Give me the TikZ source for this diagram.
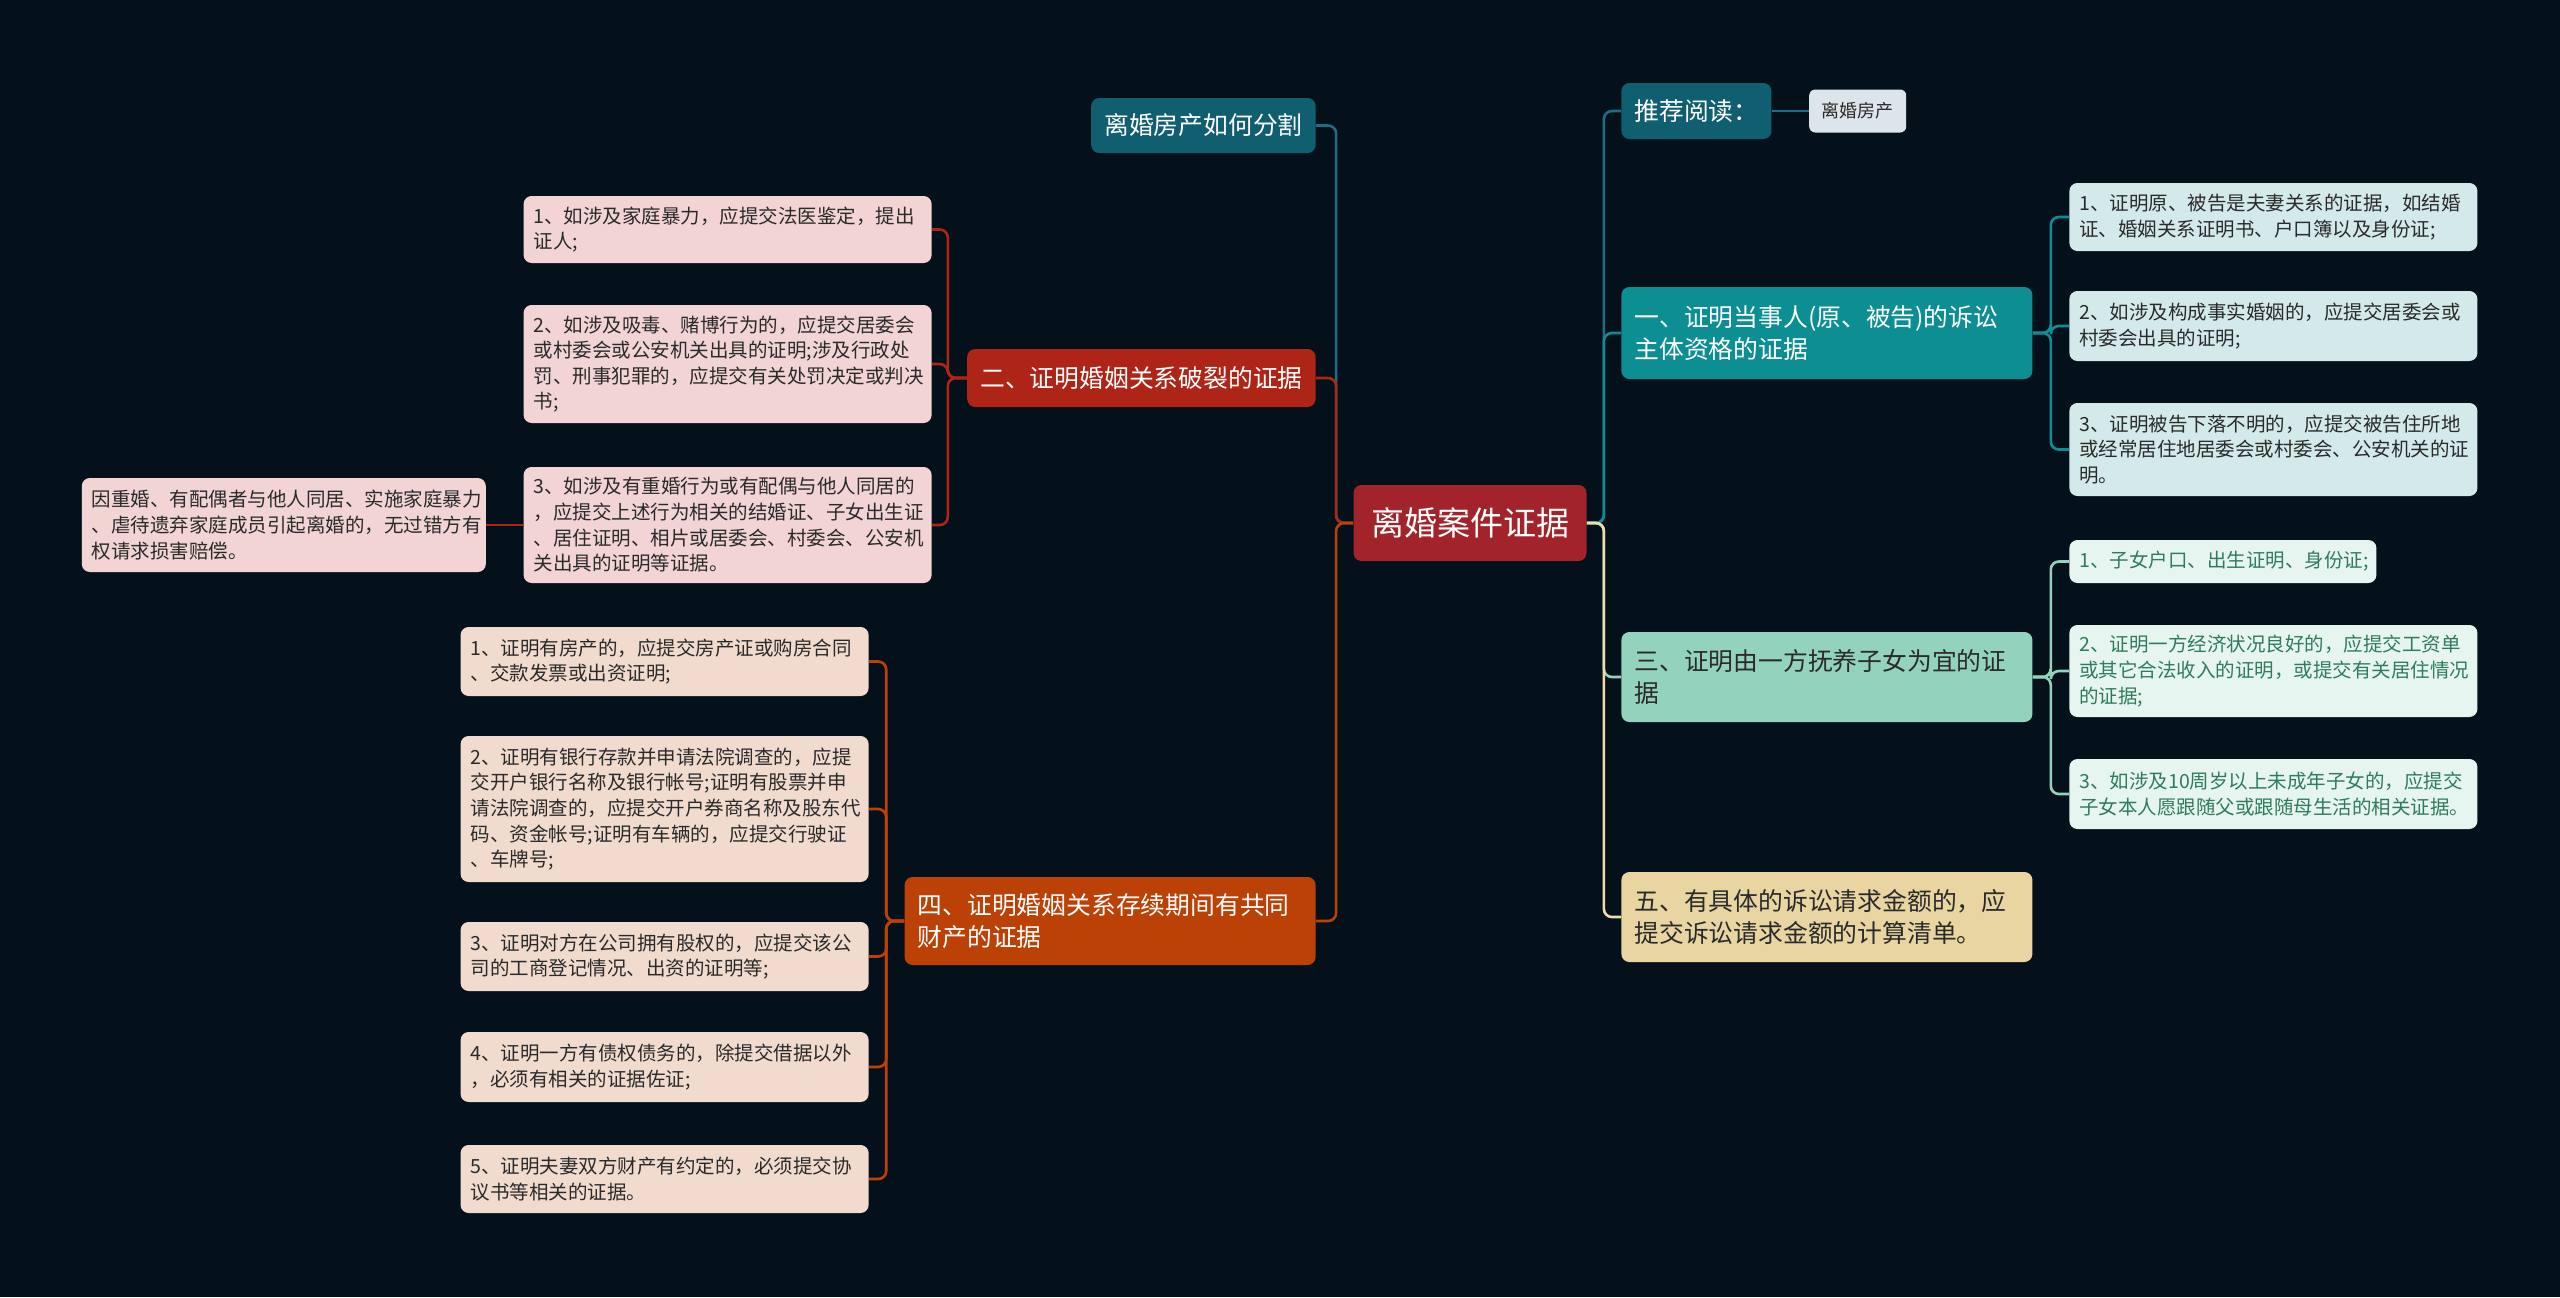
\documentclass[tikz,border=0pt]{standalone}
\usepackage{fontspec}
\setmainfont{Noto Sans CJK SC}
\usetikzlibrary{positioning}

\definecolor{bgc}{HTML}{04111A}
\definecolor{rootc}{HTML}{A3232A}
\definecolor{bluec}{HTML}{0F5F71}
\definecolor{bluel}{HTML}{1E6D84}
\definecolor{tealc}{HTML}{0D8E93}
\definecolor{mintc}{HTML}{93D2BC}
\definecolor{sandc}{HTML}{E8D5A2}
\definecolor{sandl}{HTML}{EEDCAA}
\definecolor{redc}{HTML}{AE2417}
\definecolor{orgc}{HTML}{BC4106}
\definecolor{tealleaf}{HTML}{D4EAEA}
\definecolor{mintleaf}{HTML}{E7F5F0}
\definecolor{mintink}{HTML}{2E7B5D}
\definecolor{redleaf}{HTML}{F1D4D3}
\definecolor{orgleaf}{HTML}{F1DBCF}
\definecolor{tagfill}{HTML}{DCE6EA}
\definecolor{inkc}{HTML}{2A2A2A}

\begin{document}
\begin{tikzpicture}[
    x=0.5pt, y=-0.5pt,
    root/.style={rectangle, rounded corners=4pt, fill=rootc, text=white, font=\fontsize{16.5}{20}\selectfont, minimum width=116.5pt, minimum height=38pt},
    branch/.style={rectangle, rounded corners=4pt, text=white, font=\fontsize{12.4}{16.3}\selectfont, inner xsep=6.5pt},
    branchtwo/.style={branch, text width=192.5pt, align=left, minimum height=45pt},
    leaf/.style={rectangle, rounded corners=4pt, text=inkc, font=\fontsize{9.75}{12.8}\selectfont, text width=194pt, inner xsep=5pt, inner ysep=3pt, align=left},
    link/.style={line width=1.3pt, rounded corners=4pt}
]

\fill[bgc] (0,0) rectangle (2560,1297);

% centre
\node[root] (root) at (1470,523) {离婚案件证据};

% left branches
\node[branch, fill=bluec, minimum width=112pt, minimum height=27.5pt, anchor=east] (fangchan) at (1316,125.5) {离婚房产如何分割};
\node[branch, fill=redc, minimum width=173.5pt, minimum height=29pt, anchor=east] (er) at (1316,378) {二、证明婚姻关系破裂的证据};
\node[branchtwo, fill=orgc, minimum height=44pt, anchor=east] (si) at (1316,921) {四、证明婚姻关系存续期间有共同\\财产的证据};

% right branches
\node[branch, fill=bluec, minimum width=74.5pt, minimum height=28pt, anchor=west] (tuijian) at (1621,111) {推荐阅读：};
\node[rectangle, rounded corners=3pt, fill=tagfill, text=inkc, font=\fontsize{9}{11}\selectfont, minimum width=48.5pt, minimum height=21.5pt, right=18.5pt of tuijian] (tag) {离婚房产};
\node[branchtwo, fill=tealc, minimum height=46pt, anchor=west] (yi) at (1621,333) {一、证明当事人(原、被告)的诉讼\\主体资格的证据};
\node[branchtwo, fill=mintc, text=inkc, anchor=west] (san) at (1621,677) {三、证明由一方抚养子女为宜的证\\据};
\node[branchtwo, fill=sandc, text=inkc, anchor=west] (wu) at (1621,917) {五、有具体的诉讼请求金额的，应\\提交诉讼请求金额的计算清单。};

% yi leaves
\node[leaf, fill=tealleaf, minimum height=34pt, anchor=west] (y1) at (2069,217) {1、证明原、被告是夫妻关系的证据，如结婚\\证、婚姻关系证明书、户口簿以及身份证;};
\node[leaf, fill=tealleaf, minimum height=35pt, anchor=west] (y2) at (2069,326) {2、如涉及构成事实婚姻的，应提交居委会或\\村委会出具的证明;};
\node[leaf, fill=tealleaf, minimum height=46.5pt, anchor=west] (y3) at (2069,449.5) {3、证明被告下落不明的，应提交被告住所地\\或经常居住地居委会或村委会、公安机关的证\\明。};

% san leaves
\node[leaf, fill=mintleaf, text=mintink, text width=143.5pt, minimum height=21.5pt, anchor=west] (s1) at (2069,561.5) {1、子女户口、出生证明、身份证;};
\node[leaf, fill=mintleaf, text=mintink, minimum height=46pt, anchor=west] (s2) at (2069,671) {2、证明一方经济状况良好的，应提交工资单\\或其它合法收入的证明，或提交有关居住情况\\的证据;};
\node[leaf, fill=mintleaf, text=mintink, minimum height=35pt, anchor=west] (s3) at (2069,794) {3、如涉及10周岁以上未成年子女的，应提交\\子女本人愿跟随父或跟随母生活的相关证据。};

% er leaves
\node[leaf, fill=redleaf, minimum height=33.5pt, anchor=east] (e1) at (932,229.5) {1、如涉及家庭暴力，应提交法医鉴定，提出\\证人;};
\node[leaf, fill=redleaf, minimum height=59pt, anchor=east] (e2) at (932,364) {2、如涉及吸毒、赌博行为的，应提交居委会\\或村委会或公安机关出具的证明;涉及行政处\\罚、刑事犯罪的，应提交有关处罚决定或判决\\书;};
\node[leaf, fill=redleaf, minimum height=58pt, anchor=east] (e3) at (932,525) {3、如涉及有重婚行为或有配偶与他人同居的\\，应提交上述行为相关的结婚证、子女出生证\\、居住证明、相片或居委会、村委会、公安机\\关出具的证明等证据。};
\node[leaf, fill=redleaf, text width=192pt, minimum height=47pt, left=18.5pt of e3] (e3a) {因重婚、有配偶者与他人同居、实施家庭暴力\\、虐待遗弃家庭成员引起离婚的，无过错方有\\权请求损害赔偿。};

% si leaves
\node[leaf, fill=orgleaf, minimum height=34.5pt, anchor=east] (f1) at (869,661.5) {1、证明有房产的，应提交房产证或购房合同\\、交款发票或出资证明;};
\node[leaf, fill=orgleaf, minimum height=73pt, anchor=east] (f2) at (869,809) {2、证明有银行存款并申请法院调查的，应提\\交开户银行名称及银行帐号;证明有股票并申\\请法院调查的，应提交开户券商名称及股东代\\码、资金帐号;证明有车辆的，应提交行驶证\\、车牌号;};
\node[leaf, fill=orgleaf, minimum height=34.5pt, anchor=east] (f3) at (869,956.5) {3、证明对方在公司拥有股权的，应提交该公\\司的工商登记情况、出资的证明等;};
\node[leaf, fill=orgleaf, minimum height=35pt, anchor=east] (f4) at (869,1067) {4、证明一方有债权债务的，除提交借据以外\\，必须有相关的证据佐证;};
\node[leaf, fill=orgleaf, minimum height=34pt, anchor=east] (f5) at (869,1179) {5、证明夫妻双方财产有约定的，必须提交协\\议书等相关的证据。};

% links from the centre
\draw[link, bluel] (root.west) -- ++(-17,0) |- (fangchan.east);
\draw[link, redc] (root.west) -- ++(-17,0) |- (er.east);
\draw[link, orgc] (root.west) -- ++(-17,0) |- (si.east);
\draw[link, bluel] (root.east) -- ++(17,0) |- (tuijian.west);
\draw[link, tealc] (root.east) -- ++(17,0) |- (yi.west);
\draw[link, mintc] (root.east) -- ++(17,0) |- (san.west);
\draw[link, sandl] (root.east) -- ++(17,0) |- (wu.west);
\draw[link, bluel] (tuijian.east) -- (tag.west);

% yi and san
\draw[link, tealc] (yi.east) -- ++(18,0) |- (y1.west);
\draw[link, tealc] (yi.east) -- ++(18,0) |- (y2.west);
\draw[link, tealc] (yi.east) -- ++(18,0) |- (y3.west);
\draw[link, mintc] (san.east) -- ++(18,0) |- (s1.west);
\draw[link, mintc] (san.east) -- ++(18,0) |- (s2.west);
\draw[link, mintc] (san.east) -- ++(18,0) |- (s3.west);

% er and si
\draw[link, redc] (er.west) -- ++(-19,0) |- (e1.east);
\draw[link, redc] (er.west) -- ++(-19,0) |- (e2.east);
\draw[link, redc] (er.west) -- ++(-19,0) |- (e3.east);
\draw[link, redc] (e3.west) -- (e3a.east);
\draw[link, orgc] (si.west) -- ++(-18,0) |- (f1.east);
\draw[link, orgc] (si.west) -- ++(-18,0) |- (f2.east);
\draw[link, orgc] (si.west) -- ++(-18,0) |- (f3.east);
\draw[link, orgc] (si.west) -- ++(-18,0) |- (f4.east);
\draw[link, orgc] (si.west) -- ++(-18,0) |- (f5.east);

\end{tikzpicture}
\end{document}
